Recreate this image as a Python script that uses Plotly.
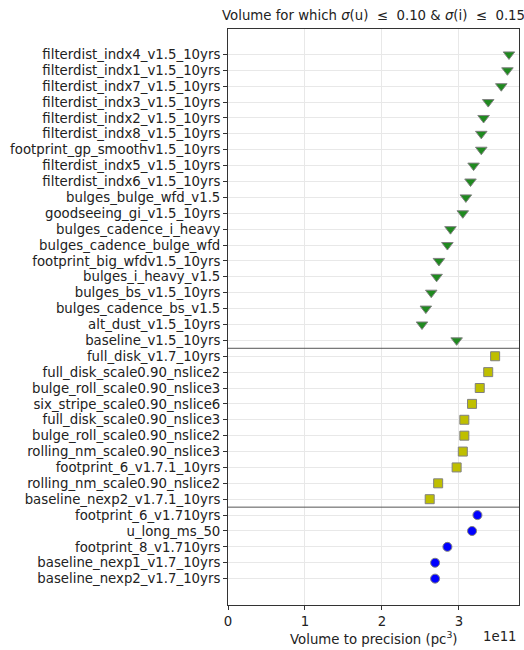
import plotly.graph_objects as go

# Run names per family, top to bottom
runs_v15 = [
    "filterdist_indx4_v1.5_10yrs", "filterdist_indx1_v1.5_10yrs", "filterdist_indx7_v1.5_10yrs",
    "filterdist_indx3_v1.5_10yrs", "filterdist_indx2_v1.5_10yrs", "filterdist_indx8_v1.5_10yrs",
    "footprint_gp_smoothv1.5_10yrs", "filterdist_indx5_v1.5_10yrs", "filterdist_indx6_v1.5_10yrs",
    "bulges_bulge_wfd_v1.5", "goodseeing_gi_v1.5_10yrs", "bulges_cadence_i_heavy",
    "bulges_cadence_bulge_wfd", "footprint_big_wfdv1.5_10yrs", "bulges_i_heavy_v1.5",
    "bulges_bs_v1.5_10yrs", "bulges_cadence_bs_v1.5", "alt_dust_v1.5_10yrs", "baseline_v1.5_10yrs",
]
vol_v15 = [3.65e11, 3.63e11, 3.55e11, 3.38e11, 3.32e11, 3.29e11, 3.29e11, 3.19e11, 3.15e11,
           3.09e11, 3.05e11, 2.89e11, 2.85e11, 2.74e11, 2.71e11, 2.64e11, 2.57e11, 2.52e11, 2.97e11]

runs_v171 = [
    "full_disk_v1.7_10yrs", "full_disk_scale0.90_nslice2", "bulge_roll_scale0.90_nslice3",
    "six_stripe_scale0.90_nslice6", "full_disk_scale0.90_nslice3", "bulge_roll_scale0.90_nslice2",
    "rolling_nm_scale0.90_nslice3", "footprint_6_v1.7.1_10yrs", "rolling_nm_scale0.90_nslice2",
    "baseline_nexp2_v1.7.1_10yrs",
]
vol_v171 = [3.47e11, 3.38e11, 3.27e11, 3.17e11, 3.07e11, 3.07e11, 3.05e11, 2.97e11, 2.73e11, 2.62e11]

runs_v17 = [
    "footprint_6_v1.710yrs", "u_long_ms_50", "footprint_8_v1.710yrs",
    "baseline_nexp1_v1.7_10yrs", "baseline_nexp2_v1.7_10yrs",
]
vol_v17 = [3.24e11, 3.17e11, 2.85e11, 2.69e11, 2.69e11]

x_ticks = [0, 1e11, 2e11, 3e11]
x_tick_text = ["0", "1", "2", "3"]

font = "DejaVu Sans"
all_runs = runs_v15 + runs_v171 + runs_v17
n1, n2 = len(runs_v15), len(runs_v171)

fig = go.Figure()

def add_family(names, vols, offset, symbol, color, size):
    fig.add_trace(go.Scatter(
        x=vols, y=list(range(offset, offset + len(names))), mode="markers",
        marker=dict(symbol=symbol, color=color, size=size,
                    line=dict(color="#808080", width=1)),
        showlegend=False, hoverinfo="x+text", text=names,
    ))

add_family(runs_v15, vol_v15, 0, "triangle-down", "#1f8a1f", 10)
add_family(runs_v171, vol_v171, n1, "square", "#bfbf00", 9)
add_family(runs_v17, vol_v17, n1 + n2, "circle", "#0000ff", 9)

# separators between run families
for yb in (n1 - 0.5, n1 + n2 - 0.5):
    fig.add_shape(type="line", xref="paper", x0=0, x1=1, yref="y", y0=yb, y1=yb,
                  line=dict(color="#555555", width=1))

fig.update_layout(
    width=524, height=650,
    margin=dict(l=228, r=5, t=29, b=45),
    paper_bgcolor="white", plot_bgcolor="white",
    font=dict(family=font, size=13.3, color="#222222"),
    xaxis=dict(range=[0, 3.78e11], tickvals=x_ticks, ticktext=x_tick_text,
               showgrid=True, gridcolor="#e8e8e8", gridwidth=1, zeroline=False,
               showline=True, linecolor="#333333", linewidth=1, mirror=True,
               ticks="outside", ticklen=4, tickcolor="#333333", automargin=False),
    yaxis=dict(range=[34.66, -1.6], tickvals=list(range(len(all_runs))), ticktext=all_runs,
               showgrid=True, gridcolor="#e8e8e8", gridwidth=1, zeroline=False,
               showline=True, linecolor="#333333", linewidth=1, mirror=True,
               ticks="outside", ticklen=4, tickcolor="#333333", automargin=False),
    annotations=[
        dict(text="Volume for which <i>σ</i>(u)  ≤  0.10 & <i>σ</i>(i)  ≤  0.15",
             xref="paper", yref="paper",
             x=0.5, y=1, yshift=4, xanchor="center", yanchor="bottom", showarrow=False,
             font=dict(size=13.3)),
        dict(text="Volume to precision (pc<sup>3</sup>)", xref="paper", yref="paper",
             x=0.5, y=0, yshift=-22, xanchor="center", yanchor="top", showarrow=False,
             font=dict(size=13.3)),
        dict(text="1e11", xref="paper", yref="paper", x=1, y=0, yshift=-22,
             xanchor="right", yanchor="top", showarrow=False, font=dict(size=13.3)),
    ],
)

fig.write_html("out.html")
